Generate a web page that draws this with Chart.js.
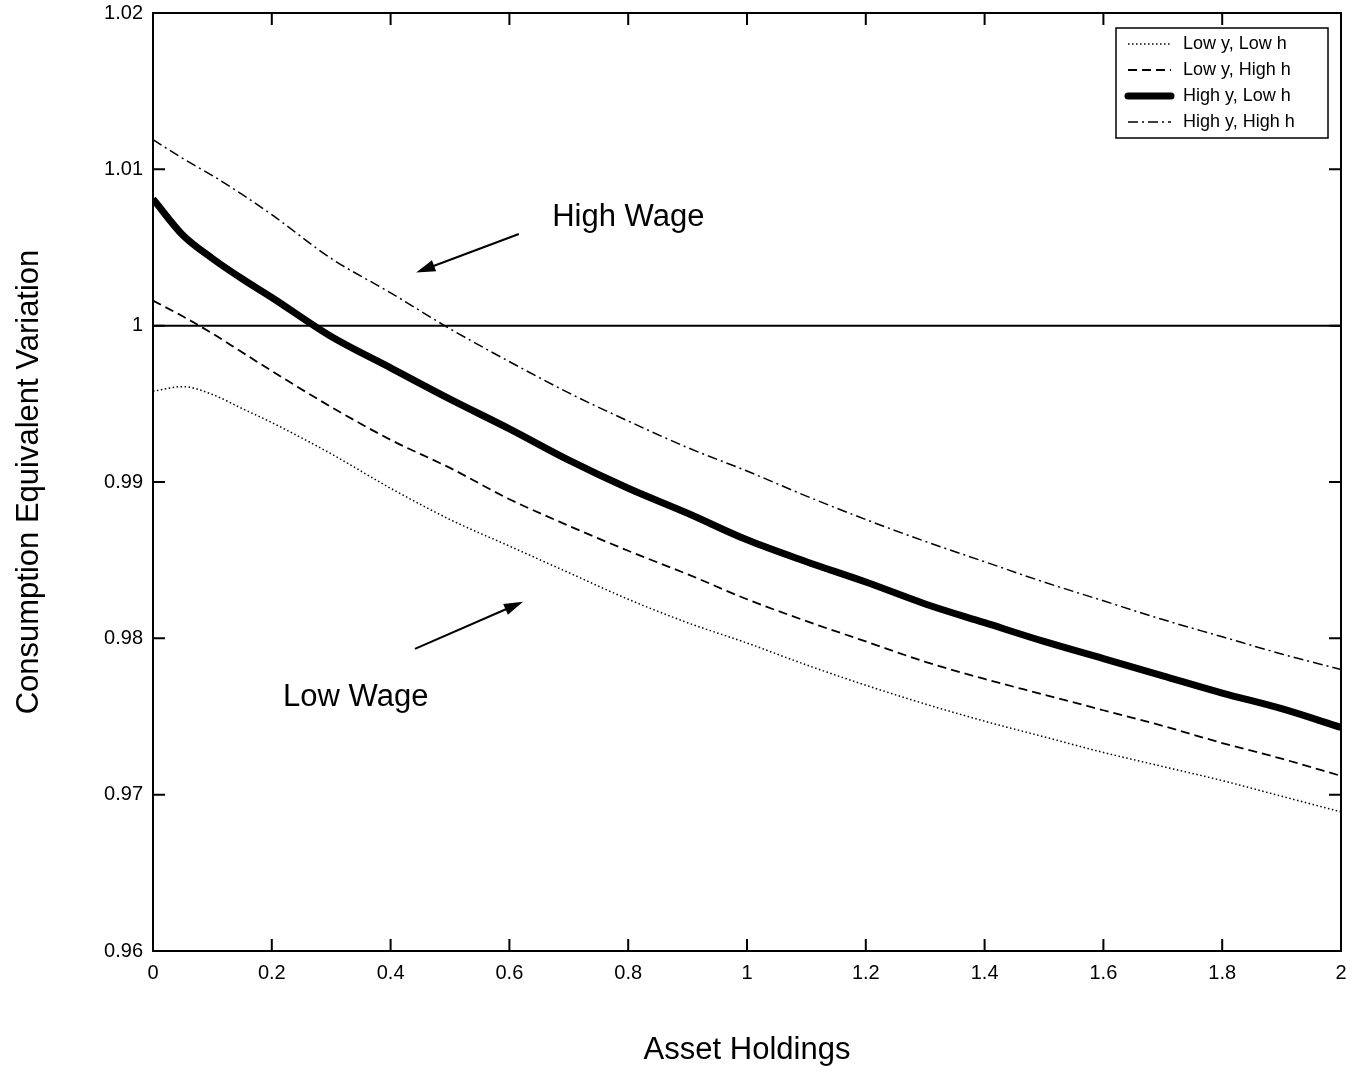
<!DOCTYPE html>
<html lang="en">
<head>
  <meta charset="UTF-8">
  <title>Consumption Equivalent Variation</title>
  <script src="https://cdn.jsdelivr.net/npm/chart.js"></script>
  <style>
    body {
      margin: 0;
      background: #fff;
    }

    .container {
      width: 1357px;
      height: 1074px;
      position: relative;
    }
  </style>
</head>
<body>
  <div class="container">
    <canvas id="myChart"></canvas>
  </div>

  <script>
    // Asset holdings grid (x values)
    const assets = [0, 0.05, 0.1, 0.15, 0.2, 0.3, 0.4, 0.5, 0.6, 0.7, 0.8, 0.9, 1.0,
                    1.1, 1.2, 1.3, 1.4, 1.5, 1.6, 1.7, 1.8, 1.9, 2.0];

    // Consumption equivalent variation
    const lowYLowH = [0.9958, 0.9961, 0.9956, 0.9947, 0.9938, 0.9918, 0.9896, 0.9876, 0.9859, 0.9842, 0.9825, 0.9810, 0.9797,
                      0.9783, 0.9770, 0.9758, 0.9747, 0.9737, 0.9727, 0.9718, 0.9709, 0.9699, 0.9689];
    const lowYHighH = [1.0016, 1.0006, 0.9995, 0.9983, 0.9971, 0.9948, 0.9927, 0.9909, 0.9889, 0.9872, 0.9856, 0.9841, 0.9825,
                       0.9811, 0.9798, 0.9785, 0.9774, 0.9764, 0.9754, 0.9744, 0.9733, 0.9723, 0.9712];
    const highYLowH = [1.0081, 1.0058, 1.0043, 1.0030, 1.0018, 0.9993, 0.9973, 0.9953, 0.9934, 0.9914, 0.9896, 0.9880, 0.9863,
                       0.9849, 0.9836, 0.9822, 0.9810, 0.9798, 0.9787, 0.9776, 0.9765, 0.9755, 0.9743];
    const highYHighH = [1.0119, 1.0107, 1.0096, 1.0084, 1.0071, 1.0043, 1.0021, 0.9998, 0.9977, 0.9957, 0.9939, 0.9922, 0.9907,
                        0.9891, 0.9876, 0.9862, 0.9849, 0.9836, 0.9824, 0.9812, 0.9801, 0.9790, 0.9780];

    const seriesNames = ['Low y, Low h', 'Low y, High h', 'High y, Low h', 'High y, High h'];
    const yTicks = [0.96, 0.97, 0.98, 0.99, 1, 1.01, 1.02];
    const xTicks = [0, 0.2, 0.4, 0.6, 0.8, 1, 1.2, 1.4, 1.6, 1.8, 2];

    const toPoints = (ys) => assets.map((x, i) => ({ x: x, y: ys[i] }));

    const styles = [
      { borderWidth: 1.5, borderDash: [1.5, 2.5] },
      { borderWidth: 1.8, borderDash: [9, 5] },
      { borderWidth: 7, borderDash: [] },
      { borderWidth: 1.5, borderDash: [10, 4, 2, 4] }
    ];

    const datasets = [lowYLowH, lowYHighH, highYLowH, highYHighH].map((ys, i) => ({
      label: seriesNames[i],
      data: toPoints(ys),
      borderColor: '#000',
      borderWidth: styles[i].borderWidth,
      borderDash: styles[i].borderDash,
      pointRadius: 0,
      cubicInterpolationMode: 'monotone',
      fill: false
    }));

    // horizontal reference line at 1
    datasets.push({
      label: 'ref',
      data: [{ x: 0, y: 1 }, { x: 2, y: 1 }],
      borderColor: '#000',
      borderWidth: 2,
      pointRadius: 0,
      fill: false
    });

    const FONT = '"Liberation Sans", Arial, Helvetica, sans-serif';

    // frame, inward ticks, legend and the two arrow notes
    const decorations = {
      id: 'decorations',
      afterDatasetsDraw(chart) {
        const ctx = chart.ctx;
        const a = chart.chartArea;
        const xs = chart.scales.x;
        const ys = chart.scales.y;
        ctx.save();
        ctx.strokeStyle = '#000';
        ctx.lineWidth = 2;
        ctx.setLineDash([]);
        ctx.strokeRect(a.left, a.top, a.right - a.left, a.bottom - a.top);

        const tl = 12;
        ctx.beginPath();
        yTicks.forEach(v => {
          const py = ys.getPixelForValue(v);
          ctx.moveTo(a.left, py); ctx.lineTo(a.left + tl, py);
          ctx.moveTo(a.right, py); ctx.lineTo(a.right - tl, py);
        });
        xTicks.forEach(v => {
          const px = xs.getPixelForValue(v);
          ctx.moveTo(px, a.bottom); ctx.lineTo(px, a.bottom - tl);
          ctx.moveTo(px, a.top); ctx.lineTo(px, a.top + tl);
        });
        ctx.stroke();

        // legend
        const bx = 1116, by = 28, bw = 212, bh = 110;
        ctx.fillStyle = '#fff';
        ctx.fillRect(bx, by, bw, bh);
        ctx.lineWidth = 1.5;
        ctx.strokeRect(bx, by, bw, bh);
        ctx.font = '18px ' + FONT;
        ctx.textBaseline = 'middle';
        ctx.fillStyle = '#000';
        seriesNames.forEach((name, i) => {
          const ry = by + 16 + i * 26;
          ctx.lineWidth = styles[i].borderWidth;
          ctx.setLineDash(styles[i].borderDash);
          ctx.lineCap = i === 2 ? 'round' : 'butt';
          ctx.beginPath();
          ctx.moveTo(bx + 12, ry);
          ctx.lineTo(bx + 55, ry);
          ctx.stroke();
          ctx.fillText(name, bx + 67, ry);
        });
        ctx.setLineDash([]);
        ctx.lineCap = 'butt';

        // annotations
        const arrow = (x1, y1, x2, y2) => {
          const p1 = [xs.getPixelForValue(x1), ys.getPixelForValue(y1)];
          const p2 = [xs.getPixelForValue(x2), ys.getPixelForValue(y2)];
          const ang = Math.atan2(p2[1] - p1[1], p2[0] - p1[0]);
          ctx.lineWidth = 2;
          ctx.beginPath();
          ctx.moveTo(p1[0], p1[1]);
          ctx.lineTo(p2[0] - 10 * Math.cos(ang), p2[1] - 10 * Math.sin(ang));
          ctx.stroke();
          ctx.beginPath();
          ctx.moveTo(p2[0], p2[1]);
          ctx.lineTo(p2[0] - 20 * Math.cos(ang - 0.3), p2[1] - 20 * Math.sin(ang - 0.3));
          ctx.lineTo(p2[0] - 20 * Math.cos(ang + 0.3), p2[1] - 20 * Math.sin(ang + 0.3));
          ctx.closePath();
          ctx.fill();
        };
        arrow(0.616, 1.00586, 0.443, 1.0034);
        arrow(0.441, 0.97933, 0.623, 0.98234);

        ctx.font = '31px ' + FONT;
        ctx.textAlign = 'left';
        ctx.fillText('High Wage', xs.getPixelForValue(0.672), ys.getPixelForValue(1.0069));
        ctx.fillText('Low Wage', xs.getPixelForValue(0.219), ys.getPixelForValue(0.9762));
        ctx.restore();
      }
    };

    const ctx = document.getElementById('myChart').getContext('2d');
    const myChart = new Chart(ctx, {
      type: 'line',
      data: { datasets: datasets },
      options: {
        responsive: true,
        maintainAspectRatio: false,
        animation: false,
        layout: { padding: { top: 13, right: 16, left: 0, bottom: 0 } },
        plugins: {
          legend: { display: false },
          tooltip: { enabled: false }
        },
        scales: {
          x: {
            type: 'linear',
            min: 0,
            max: 2,
            grid: { display: false },
            border: { display: false },
            afterBuildTicks: (scale) => { scale.ticks = xTicks.map(v => ({ value: v })); },
            afterFit: (scale) => {
              scale.height = 123;
              scale.paddingLeft = 0;
              scale.paddingRight = 0;
            },
            ticks: {
              padding: 2,
              color: '#000',
              font: { family: FONT, size: 20 },
              maxRotation: 0,
              callback: (v) => String(+v.toFixed(2))
            },
            title: {
              display: true,
              text: 'Asset Holdings',
              color: '#000',
              font: { family: FONT, size: 31 },
              padding: { top: 0, bottom: 5 }
            }
          },
          y: {
            type: 'linear',
            min: 0.96,
            max: 1.02,
            grid: { display: false },
            border: { display: false },
            afterBuildTicks: (scale) => { scale.ticks = yTicks.map(v => ({ value: v })); },
            afterFit: (scale) => {
              scale.width = 153;
              scale.paddingTop = 0;
              scale.paddingBottom = 0;
            },
            ticks: {
              padding: 2,
              color: '#000',
              font: { family: FONT, size: 20 },
              callback: (v) => String(+v.toFixed(2))
            },
            title: {
              display: true,
              text: 'Consumption Equivalent Variation',
              color: '#000',
              font: { family: FONT, size: 31 },
              padding: { top: 11, bottom: 0 }
            }
          }
        }
      },
      plugins: [decorations]
    });
  </script>
</body>
</html>
